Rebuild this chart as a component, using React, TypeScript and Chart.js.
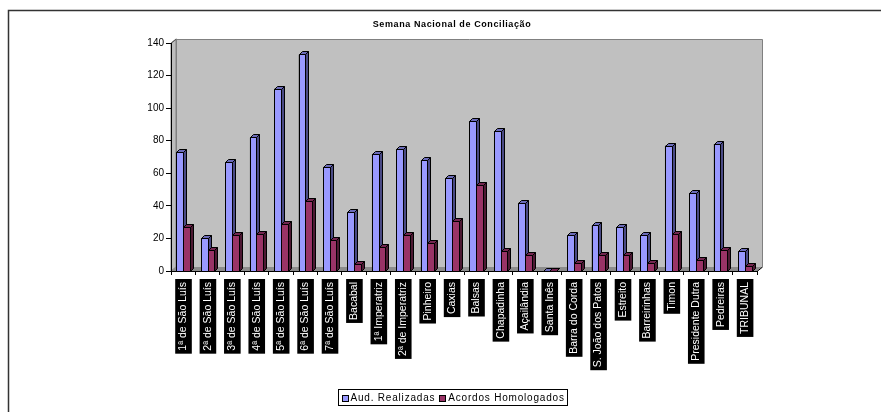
import React, { useEffect, useRef } from "react";
import { Chart, registerables } from "chart.js";

Chart.register(...registerables);

const chartTitle = "Semana Nacional de Conciliação";
const categories = [
  "1ª de São Luís",
  "2ª de São Luís",
  "3ª de São Luís",
  "4ª de São Luís",
  "5ª de São Luís",
  "6ª de São Luís",
  "7ª de São Luís",
  "Bacabal",
  "1ª Imperatriz",
  "2ª de Imperatriz",
  "Pinheiro",
  "Caxias",
  "Balsas",
  "Chapadinha",
  "Açailândia",
  "Santa Inês",
  "Barra do Corda",
  "S. João dos Patos",
  "Estreito",
  "Barreirinhas",
  "Timon",
  "Presidente Dutra",
  "Pedreiras",
  "TRIBUNAL",
];
const seriesNames = ["Aud. Realizadas", "Acordos Homologados"];
const audRealizadas = [73, 20, 67, 82, 112, 133, 64, 36, 72, 75, 68, 57, 92, 86, 42, 0, 22, 28, 27, 22, 77, 48, 78, 12];
const acordosHomologados = [27, 13, 22, 23, 29, 43, 19, 4, 15, 22, 17, 31, 53, 12, 10, 0, 5, 10, 10, 5, 23, 7, 13, 3];
const yMin = 0;
const yMax = 140;
const yStep = 20;

const FONT = "'Liberation Sans', Arial, sans-serif";
const faceColors = ["#9999ff", "#993366"];
const sideColors = ["#4a4a85", "#4d1933"];
const topColors = ["#6b6bb8", "#732650"];
const DX = 3;
const DY = 3;
const WX = 5;
const WY = 4;
const CENTER_X = 452;

const wallPlugin = {
  id: "wall3d",
  beforeDraw(chart: any) {
    const ctx = chart.ctx;
    const { left: L, right: R, top: T, bottom: B } = chart.chartArea;
    ctx.save();
    ctx.fillStyle = "#ffffff";
    ctx.fillRect(0, 0, chart.width, chart.height);
    // outer frame
    ctx.strokeStyle = "#333333";
    ctx.lineWidth = 1.5;
    ctx.strokeRect(8.5, 10.5, chart.width + 20, chart.height + 20);
    ctx.lineWidth = 1;
    // back wall
    ctx.fillStyle = "#c0c0c0";
    ctx.strokeStyle = "#808080";
    ctx.beginPath();
    ctx.rect(L + WX + 0.5, T - WY + 0.5, R - L, B - T);
    ctx.fill();
    ctx.stroke();
    // left wall
    ctx.beginPath();
    ctx.moveTo(L, T);
    ctx.lineTo(L + WX, T - WY);
    ctx.lineTo(L + WX, B - WY);
    ctx.lineTo(L, B);
    ctx.closePath();
    ctx.fillStyle = "#bdbdbd";
    ctx.fill();
    ctx.stroke();
    // floor
    ctx.beginPath();
    ctx.moveTo(L, B);
    ctx.lineTo(L + WX, B - WY);
    ctx.lineTo(R + WX, B - WY);
    ctx.lineTo(R, B);
    ctx.closePath();
    ctx.fillStyle = "#8c8c8c";
    ctx.fill();
    ctx.strokeStyle = "#000";
    ctx.beginPath();
    ctx.moveTo(R, B + 0.5);
    ctx.lineTo(R + WX, B - WY + 0.5);
    ctx.stroke();
    ctx.strokeStyle = "#555";
    ctx.beginPath();
    ctx.moveTo(L + 0.5, T);
    ctx.lineTo(L + WX + 0.5, T - WY);
    ctx.stroke();
    ctx.restore();
  },
};

const barPlugin = {
  id: "bar3d",
  afterDatasetsDraw(chart: any) {
    const ctx = chart.ctx;
    ctx.save();
    ctx.lineWidth = 1;
    ctx.strokeStyle = "#000";
    chart.data.datasets.forEach((_ds: any, di: number) => {
      const meta = chart.getDatasetMeta(di);
      meta.data.forEach((el: any) => {
        const p = el.getProps(["x", "y", "base", "width"], true);
        const l = Math.round(p.x - p.width / 2) + 0.5;
        const r = Math.round(p.x + p.width / 2) + 0.5;
        const y = Math.round(p.y) + 0.5;
        const b = Math.round(p.base) + 0.5;
        // front face
        ctx.beginPath();
        ctx.rect(l, y, r - l, b - y);
        ctx.fillStyle = faceColors[di];
        ctx.fill();
        ctx.stroke();
        // side face
        ctx.beginPath();
        ctx.moveTo(r, b);
        ctx.lineTo(r + DX, b - DY);
        ctx.lineTo(r + DX, y - DY);
        ctx.lineTo(r, y);
        ctx.closePath();
        ctx.fillStyle = sideColors[di];
        ctx.fill();
        ctx.stroke();
        // top face
        ctx.beginPath();
        ctx.moveTo(l, y);
        ctx.lineTo(l + DX, y - DY);
        ctx.lineTo(r + DX, y - DY);
        ctx.lineTo(r, y);
        ctx.closePath();
        ctx.fillStyle = topColors[di];
        ctx.fill();
        ctx.stroke();
      });
    });
    ctx.restore();
  },
};

const textPlugin = {
  id: "titleLegend",
  afterDraw(chart: any) {
    const ctx = chart.ctx;
    ctx.save();
    // title
    ctx.fillStyle = "#000";
    ctx.font = `bold 9px ${FONT}`;
    (ctx as any).letterSpacing = "0.6px";
    ctx.textAlign = "center";
    ctx.textBaseline = "middle";
    ctx.fillText(chartTitle, CENTER_X, 25);
    // legend
    ctx.font = `10px ${FONT}`;
    (ctx as any).letterSpacing = "0.8px";
    ctx.textAlign = "left";
    const sq = 6;
    const gap = 3;
    const itemGap = 4;
    const widths = seriesNames.map((n) => ctx.measureText(n).width);
    let total = 0;
    widths.forEach((w, i) => {
      total += sq + gap + w + (i < widths.length - 1 ? itemGap : 0);
    });
    const padX = 3;
    const boxW = Math.round(total + padX * 2);
    const boxX = Math.round(CENTER_X - boxW / 2) + 0.5;
    const boxY = 389.5;
    const boxH = 16;
    ctx.fillStyle = "#fff";
    ctx.strokeStyle = "#000";
    ctx.lineWidth = 1;
    ctx.fillRect(boxX, boxY, boxW, boxH);
    ctx.strokeRect(boxX, boxY, boxW, boxH);
    let x = boxX + padX;
    const cy = boxY + boxH / 2;
    seriesNames.forEach((n, i) => {
      ctx.fillStyle = faceColors[i];
      ctx.fillRect(Math.round(x) + 0.5, Math.round(cy - sq / 2) + 0.5, sq, sq);
      ctx.strokeRect(Math.round(x) + 0.5, Math.round(cy - sq / 2) + 0.5, sq, sq);
      x += sq + gap;
      ctx.fillStyle = "#000";
      ctx.fillText(n, x, cy + 0.5);
      x += widths[i] + itemGap;
    });
    ctx.restore();
  },
};

export default function App() {
  const canvasRef = useRef<HTMLCanvasElement | null>(null);

  useEffect(() => {
    const canvas = canvasRef.current;
    if (!canvas) return;
    const chart = new Chart(canvas, {
      type: "bar",
      data: {
        labels: categories,
        datasets: [
          {
            label: seriesNames[0],
            data: audRealizadas,
            backgroundColor: faceColors[0],
            borderColor: "#000",
            borderWidth: 1,
            categoryPercentage: 0.55,
            barPercentage: 1,
          },
          {
            label: seriesNames[1],
            data: acordosHomologados,
            backgroundColor: faceColors[1],
            borderColor: "#000",
            borderWidth: 1,
            categoryPercentage: 0.55,
            barPercentage: 1,
          },
        ],
      },
      options: {
        animation: false,
        responsive: false,
        maintainAspectRatio: false,
        devicePixelRatio: 1,
        layout: { padding: { left: 0, top: 43, right: 124, bottom: 0 } },
        plugins: {
          legend: { display: false },
          title: { display: false },
          tooltip: { enabled: false },
        },
        scales: {
          x: {
            grid: {
              display: true,
              drawOnChartArea: false,
              drawTicks: true,
              tickLength: 4,
              color: "#000",
              offset: true,
            },
            border: { display: true, color: "#000", width: 1 },
            ticks: {
              autoSkip: false,
              minRotation: 90,
              maxRotation: 90,
              color: "#fff",
              font: { family: FONT, size: 10.5 },
              padding: 7,
              labelOffset: -6,
              showLabelBackdrop: true,
              backdropColor: "#000",
              backdropPadding: { top: 2, bottom: 2, left: 3, right: 3 },
            },
            afterFit: (s: any) => {
              s.height = 141;
            },
          },
          y: {
            min: yMin,
            max: yMax,
            ticks: {
              stepSize: yStep,
              color: "#000",
              font: { family: FONT, size: 10 },
              padding: 2,
            },
            grid: {
              display: true,
              drawOnChartArea: false,
              tickLength: 5,
              color: "#000",
            },
            border: { display: true, color: "#000", width: 1 },
            afterFit: (s: any) => {
              s.width = 171;
            },
          },
        },
      },
      plugins: [wallPlugin, barPlugin, textPlugin],
    } as any);
    return () => chart.destroy();
  }, []);

  return (
    <div style={{ position: "absolute", left: 0, top: 0, width: 881, height: 412, background: "#fff" }}>
      <canvas ref={canvasRef} width={881} height={412} style={{ display: "block", width: 881, height: 412 }} />
    </div>
  );
}
